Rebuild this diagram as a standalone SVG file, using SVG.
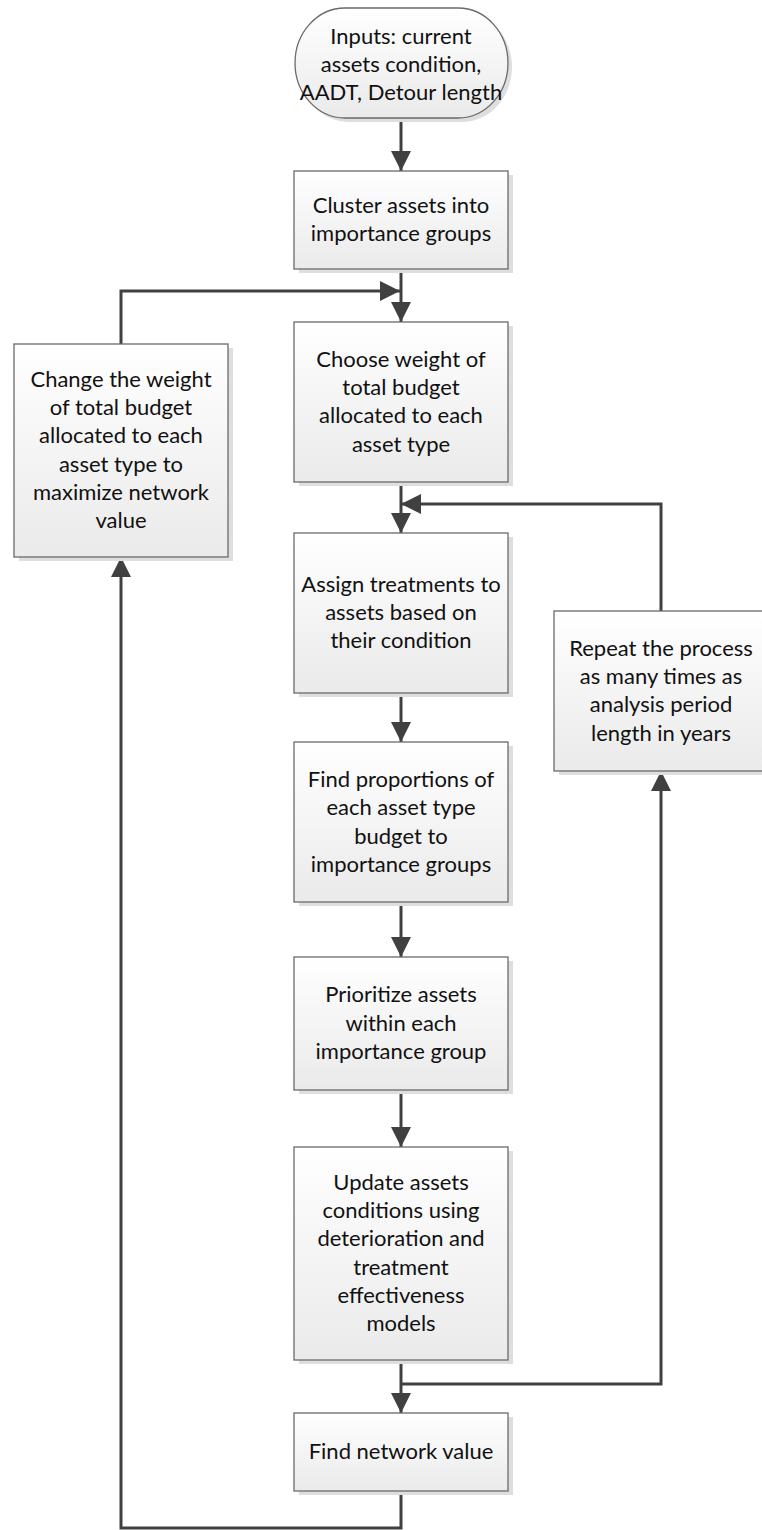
<svg xmlns="http://www.w3.org/2000/svg" width="762" height="1530" viewBox="0 0 762 1530">
<style>
.box{fill:url(#g);stroke:#6a6a6a;stroke-width:1.3}
.sh{fill:#dedede}
.t{font-family:Lato,"Liberation Sans",sans-serif;font-size:22px;fill:#111;text-anchor:middle}
.c{fill:none;stroke:#404040;stroke-width:3}
</style>
<defs>
<linearGradient id="g" x1="0" y1="0" x2="0" y2="1">
<stop offset="0" stop-color="#ffffff"/>
<stop offset="1" stop-color="#eaeaea"/>
</linearGradient>
<marker id="a" viewBox="0 0 20 20" refX="20" refY="10" markerWidth="20" markerHeight="20" markerUnits="userSpaceOnUse" orient="auto">
<path d="M0,0 L20,10 L0,20 z" fill="#404040"/>
</marker>
</defs>
<g id="connectors">
<path class="c" d="M401,118 V171" marker-end="url(#a)"/>
<path class="c" d="M401,269 V322" marker-end="url(#a)"/>
<path class="c" d="M121,344 V291 H400" marker-end="url(#a)"/>
<path class="c" d="M401,482 V533" marker-end="url(#a)"/>
<path class="c" d="M661,611 V504 H401" marker-end="url(#a)"/>
<path class="c" d="M401,693 V742" marker-end="url(#a)"/>
<path class="c" d="M401,902 V957" marker-end="url(#a)"/>
<path class="c" d="M401,1090 V1147" marker-end="url(#a)"/>
<path class="c" d="M401,1360 V1413" marker-end="url(#a)"/>
<path class="c" d="M401,1384 H661 V771" marker-end="url(#a)"/>
<path class="c" d="M401,1491 V1528 H121 V557" marker-end="url(#a)"/>
</g>
<g id="start">
<path class="sh" d="M349,12 H462 A50,55 0 0 1 462,122 H349 A50,55 0 0 1 349,12 Z"/>
<path class="box" d="M345,8 H458 A50,55 0 0 1 458,118 H345 A50,55 0 0 1 345,8 Z"/>
<text class="t" x="401" y="43.5">Inputs: current</text>
<text class="t" x="401" y="72">assets condition,</text>
<text class="t" x="401" y="100">AADT, Detour length</text>
</g>
<g id="cluster">
<rect class="sh" x="299" y="175" width="214" height="98"/>
<rect class="box" x="294" y="171" width="214" height="98"/>
<text class="t" x="401" y="213">Cluster assets into</text>
<text class="t" x="401" y="241">importance groups</text>
</g>
<g id="choose">
<rect class="sh" x="299" y="326" width="214" height="160"/>
<rect class="box" x="294" y="322" width="214" height="160"/>
<text class="t" x="401" y="366.5">Choose weight of</text>
<text class="t" x="401" y="394.8">total budget</text>
<text class="t" x="401" y="423.2">allocated to each</text>
<text class="t" x="401" y="451.5">asset type</text>
</g>
<g id="change">
<rect class="sh" x="19" y="348" width="214" height="213"/>
<rect class="box" x="14" y="344" width="214" height="213"/>
<text class="t" x="121" y="386.7">Change the weight</text>
<text class="t" x="121" y="415">of total budget</text>
<text class="t" x="121" y="443.3">allocated to each</text>
<text class="t" x="121" y="471.7">asset type to</text>
<text class="t" x="121" y="500">maximize network</text>
<text class="t" x="121" y="528.3">value</text>
</g>
<g id="assign">
<rect class="sh" x="299" y="537" width="214" height="160"/>
<rect class="box" x="294" y="533" width="214" height="160"/>
<text class="t" x="401" y="591.7">Assign treatments to</text>
<text class="t" x="401" y="620">assets based on</text>
<text class="t" x="401" y="648.3">their condition</text>
</g>
<g id="repeat">
<rect class="sh" x="559" y="615" width="214" height="160"/>
<rect class="box" x="554" y="611" width="214" height="160"/>
<text class="t" x="661" y="655.5">Repeat the process</text>
<text class="t" x="661" y="683.8">as many times as</text>
<text class="t" x="661" y="712.2">analysis period</text>
<text class="t" x="661" y="740.5">length in years</text>
</g>
<g id="proportions">
<rect class="sh" x="299" y="746" width="214" height="160"/>
<rect class="box" x="294" y="742" width="214" height="160"/>
<text class="t" x="401" y="787">Find proportions of</text>
<text class="t" x="401" y="815.3">each asset type</text>
<text class="t" x="401" y="843.7">budget to</text>
<text class="t" x="401" y="872">importance groups</text>
</g>
<g id="prioritize">
<rect class="sh" x="299" y="961" width="214" height="133"/>
<rect class="box" x="294" y="957" width="214" height="133"/>
<text class="t" x="401" y="1002.2">Prioritize assets</text>
<text class="t" x="401" y="1030.5">within each</text>
<text class="t" x="401" y="1058.8">importance group</text>
</g>
<g id="update">
<rect class="sh" x="299" y="1151" width="214" height="213"/>
<rect class="box" x="294" y="1147" width="214" height="213"/>
<text class="t" x="401" y="1189.7">Update assets</text>
<text class="t" x="401" y="1218">conditions using</text>
<text class="t" x="401" y="1246.3">deterioration and</text>
<text class="t" x="401" y="1274.7">treatment</text>
<text class="t" x="401" y="1303">effectiveness</text>
<text class="t" x="401" y="1331.3">models</text>
</g>
<g id="network">
<rect class="sh" x="299" y="1417" width="214" height="78"/>
<rect class="box" x="294" y="1413" width="214" height="78"/>
<text class="t" x="401" y="1459">Find network value</text>
</g>
</svg>
